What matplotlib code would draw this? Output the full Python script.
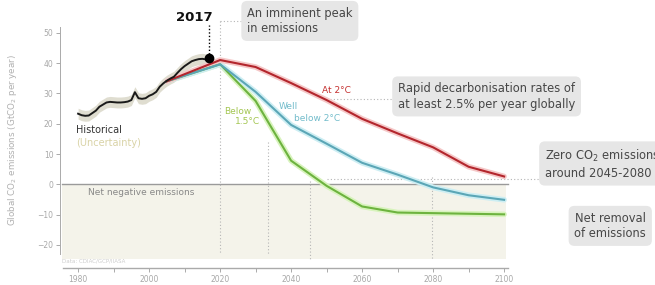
import numpy as np
import matplotlib
matplotlib.use('Agg')
from matplotlib import pyplot as plt

# historical emissions, GtCO2/yr
hist_years = np.arange(1980, 2018)
hist_vals = [23.3, 22.8, 22.6, 22.7, 23.5, 24.3, 25.6, 26.3, 27.0, 27.2,
             27.1, 27.0, 27.0, 27.1, 27.3, 27.8, 30.4, 28.4, 28.2, 28.4,
             29.2, 29.7, 30.5, 32.2, 33.3, 34.2, 34.9, 35.5, 36.8, 38.0,
             39.0, 39.8, 40.6, 41.0, 41.3, 41.4, 41.2, 41.8]
hist_unc = 1.8

# scenario pathways
scen_years = [2005, 2020, 2030, 2040, 2050, 2060, 2070, 2080, 2090, 2100]
at_2c = [34.0, 41.0, 38.7, 33.4, 27.8, 21.6, 16.8, 12.2, 5.8, 2.6]
well_below_2c = [34.0, 39.6, 30.5, 19.6, 13.4, 7.1, 3.2, -1.0, -3.6, -5.1]
below_15c = [34.0, 39.6, 27.5, 7.8, -0.5, -7.3, -9.3, -9.5, -9.7, -9.9]

xticks_major = [1980, 2000, 2020, 2040, 2060, 2080, 2100]
xticks_minor = [1990, 2010, 2030, 2050, 2070, 2090]
yticks = [-20, -10, 0, 10, 20, 30, 40, 50]

TXT = '#474747'
GRID = '#b5b5b5'

fig = plt.figure(figsize=(6.55, 2.85), dpi=100)
ax = fig.add_axes([0, 0, 1, 1])
ax.set_xlim(1958.0, 2142.5)
ax.set_ylim(-33.2, 60.8)

# net negative zone
ax.fill_between([1975.5, 2100.5], 0, -24.5, color='#f4f3ea', lw=0, zorder=0)
ax.plot([1975.5, 2101], [0, 0], color='#9a9a9a', lw=1, zorder=1)

# dotted guide lines
dot = dict(color=GRID, lw=0.8, ls=(0, (1, 2)), zorder=1)
ax.plot([2020, 2020], [54, -23], **dot)
ax.plot([2033.4, 2033.4], [14, -23], **dot)
ax.plot([2045.2, 2045.2], [1, -24.5], **dot)
ax.plot([2079.8, 2079.8], [2.5, -24.5], **dot)
ax.plot([2020, 2026], [54, 54], **dot)
ax.plot([2048, 2070], [28.3, 28.3], **dot)
ax.plot([2050, 2111], [1.8, 1.8], **dot)

# historical with uncertainty
hv = np.array(hist_vals)
ax.fill_between(hist_years, hv - hist_unc, hv + hist_unc, color='#dfddd0', lw=0, zorder=2)

# scenarios with soft halo
for vals, col, halo in [(below_15c, '#6db33f', '#d8f3bd'),
                        (well_below_2c, '#5ba6b6', '#cdeef3'),
                        (at_2c, '#b3262d', '#f5c8c8')]:
    ax.plot(scen_years, vals, color=halo, lw=4, solid_capstyle='round', zorder=3)
    ax.plot(scen_years, vals, color=col, lw=1.5, zorder=4)

ax.plot(hist_years, hv, color='#1a1a1a', lw=1.4, zorder=5)
ax.plot(hist_years[-1], hv[-1], 'o', color='black', ms=6, zorder=6)
ax.plot([2017, 2017], [43, 52.5], color='black', lw=1, ls=(0, (1, 1.5)), zorder=5)
ax.text(2012.8, 54.9, '2017', ha='center', va='center', fontsize=9.5,
        fontweight='bold', color='#111111')

# scenario labels
ax.text(2052.8, 31.1, 'At 2°C', color='#c4302f', fontsize=6.5, ha='center', va='center')
ax.text(2039.3, 25.6, 'Well', color='#72bccb', fontsize=6.5, ha='center', va='center')
ax.text(2047.2, 21.8, 'below 2°C', color='#72bccb', fontsize=6.5, ha='center', va='center')
ax.text(2025.1, 24.1, 'Below', color='#a3c651', fontsize=6.5, ha='center', va='center')
ax.text(2027.7, 20.7, '1.5°C', color='#a3c651', fontsize=6.5, ha='center', va='center')

ax.text(1979.4, 17.9, 'Historical', color='#333333', fontsize=7, ha='left', va='center')
ax.text(1979.4, 13.6, '(Uncertainty)', color='#d9d3a6', fontsize=7, ha='left', va='center')
ax.text(1982.8, -2.6, 'Net negative emissions', color='#888888', fontsize=6.5, ha='left', va='center')
ax.text(1975.5, -25.3, 'Data: CDIAC/GCP/IIASA', color='#cccccc', fontsize=4, ha='left', va='center')

# callout boxes
box = dict(boxstyle='round,pad=0.5,rounding_size=0.5', fc='#e6e6e6', ec='none')
ax.text(2027.6, 53.9, 'An imminent peak\nin emissions', fontsize=8.3, color=TXT,
        ha='left', va='center', linespacing=1.25, bbox=box)
ax.text(2070.1, 29.0, 'Rapid decarbonisation rates of\nat least 2.5% per year globally',
        fontsize=8.3, color=TXT, ha='left', va='center', linespacing=1.25, bbox=box)
ax.text(2111.5, 6.7, 'Zero CO$_2$ emissions\naround 2045-2080', fontsize=8.3, color=TXT,
        ha='left', va='center', linespacing=1.25, bbox=box)
ax.text(2129.9, -13.7, 'Net removal\nof emissions', fontsize=8.3, color=TXT,
        ha='center', va='center', linespacing=1.25, multialignment='center', bbox=box)

ax.text(1961.4, 14.6, 'Global CO$_2$ emissions (GtCO$_2$ per year)', rotation=90,
        color='#b0b0b0', fontsize=6.3, ha='center', va='center')

# axes
for s in ['top', 'right']:
    ax.spines[s].set_visible(False)
ax.spines['left'].set_position(('data', 1975.0))
ax.spines['left'].set_bounds(-23, 52)
ax.spines['bottom'].set_position(('data', -27.7))
ax.spines['bottom'].set_bounds(1975.7, 2101)
ax.spines['left'].set_color('#aaaaaa')
ax.spines['bottom'].set_color('#aaaaaa')
ax.spines['left'].set_linewidth(0.7)
ax.spines['bottom'].set_linewidth(1.0)
ax.set_xticks(xticks_major)
ax.set_xticks(xticks_minor, minor=True)
ax.set_yticks(yticks)
ax.tick_params(axis='both', colors='#aaaaaa', labelcolor='#a8a8a8', labelsize=5.5,
               length=3, width=0.7, pad=2)
ax.tick_params(axis='x', which='minor', colors='#aaaaaa', length=3, width=0.7)
ax.patch.set_alpha(0)

fig.savefig('out.png', dpi=100)
